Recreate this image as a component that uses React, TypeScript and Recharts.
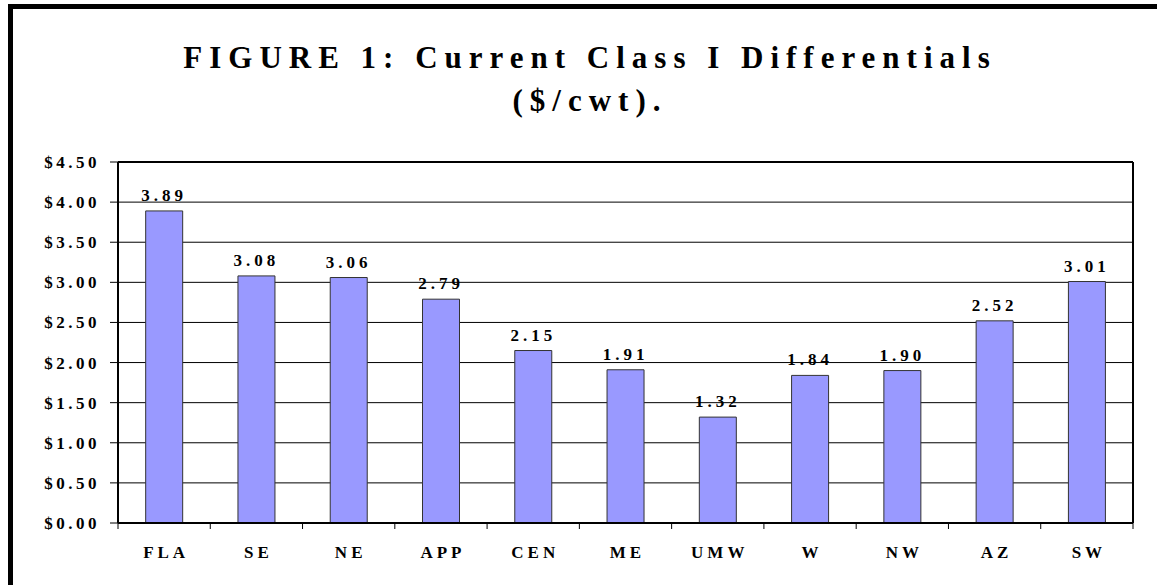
import { BarChart, Bar, XAxis, YAxis, CartesianGrid, LabelList } from 'recharts'

const regions = ['FLA', 'SE', 'NE', 'APP', 'CEN', 'ME', 'UMW', 'W', 'NW', 'AZ', 'SW']
const differentials = [3.89, 3.08, 3.06, 2.79, 2.15, 1.91, 1.32, 1.84, 1.9, 2.52, 3.01]
const yTicks = [0, 0.5, 1, 1.5, 2, 2.5, 3, 3.5, 4, 4.5]

const W = 1157
const H = 585
const M = { top: 162, right: 24, bottom: 0, left: 0 }
const Y_AXIS_W = 118
const HALF_BAND = (W - M.left - M.right - Y_AXIS_W) / regions.length / 2

const FONT = '"Liberation Serif", "Times New Roman", serif'

const data = regions.map((r, i) => ({ region: r, value: differentials[i] }))

function XTick(props: any) {
  const { x, y, payload, index } = props
  const last = index === regions.length - 1
  return (
    <g>
      <line x1={x - HALF_BAND} x2={x - HALF_BAND} y1={y} y2={y + 6} stroke="#000" />
      {last && <line x1={x + HALF_BAND} x2={x + HALF_BAND} y1={y} y2={y + 6} stroke="#000" />}
      <text
        x={x + 2}
        y={y + 35}
        textAnchor="middle"
        fontFamily={FONT}
        fontWeight="bold"
        fontSize={17}
        letterSpacing={4}
        fill="#000"
      >
        {payload.value}
      </text>
    </g>
  )
}

export default function App() {
  return (
    <div
      style={{
        position: 'absolute',
        left: 0,
        top: 0,
        width: W,
        height: H,
        overflow: 'hidden',
        background: '#fff',
      }}
    >
      <div
        style={{
          position: 'absolute',
          left: 8,
          top: 4,
          width: 1200,
          height: 700,
          border: '5px solid #000',
        }}
      />
      <div
        style={{
          position: 'absolute',
          left: 0,
          width: 1180,
          top: 36,
          textAlign: 'center',
          fontFamily: FONT,
          fontWeight: 'bold',
          fontSize: 31,
          letterSpacing: 7,
          lineHeight: '43px',
          color: '#000',
        }}
      >
        FIGURE 1: Current Class I Differentials
        <br />
        ($/cwt).
      </div>
      <div style={{ position: 'absolute', left: 0, top: 0 }}>
        <BarChart width={W} height={H} data={data} margin={M} barCategoryGap="30%">
          <CartesianGrid xAxisId="main" yAxisId="main" stroke="#000" vertical={false} />
          {/* plot frame: top and right edges */}
          <CartesianGrid
            xAxisId="main"
            yAxisId="main"
            stroke="#000"
            strokeWidth={2}
            horizontalCoordinatesGenerator={({ offset }: any) => [offset.top]}
            verticalCoordinatesGenerator={({ offset }: any) => [offset.left + offset.width]}
          />
          <XAxis
            dataKey="region"
            xAxisId="main"
            height={62}
            axisLine={{ stroke: '#000', strokeWidth: 2 }}
            tickLine={false}
            tickSize={0}
            tickMargin={0}
            tick={<XTick />}
            interval={0}
          />
          <YAxis
            yAxisId="main"
            width={Y_AXIS_W}
            domain={[0, 4.5]}
            ticks={yTicks}
            interval={0}
            axisLine={{ stroke: '#000', strokeWidth: 2 }}
            tickLine={{ stroke: '#000' }}
            tickSize={8}
            tickMargin={10}
            tickFormatter={(v: number) => `$${v.toFixed(2)}`}
            tick={{ fontFamily: FONT, fontWeight: 'bold', fontSize: 17, letterSpacing: 3.5, fill: '#000' }}
          />
          <Bar
            dataKey="value"
            xAxisId="main"
            yAxisId="main"
            fill="#9999FF"
            stroke="#333"
            strokeWidth={1}
            isAnimationActive={false}
          >
            <LabelList
              dataKey="value"
              position="top"
              offset={10}
              formatter={(v: any) => Number(v).toFixed(2)}
              fontFamily={FONT}
              fontWeight="bold"
              fontSize={17}
              letterSpacing={4}
              fill="#000"
            />
          </Bar>
        </BarChart>
      </div>
    </div>
  )
}
